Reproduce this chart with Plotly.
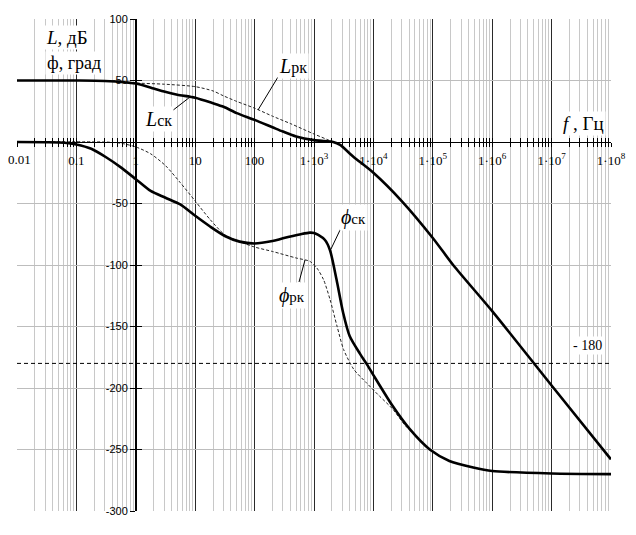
import plotly.graph_objects as go

# ---------------- data ----------------
f_L_ck = [0.01, 0.1, 0.3, 1, 2, 3, 5, 10, 20, 30, 50, 100, 200, 300, 500, 1000,
          1500, 2100, 2750, 4600, 1e4, 3e4, 1e5, 2.2e5, 1e6, 1e7, 1e8]
L_ck = [50, 50, 49.6, 47.5, 43.5, 41, 38.5, 36, 31.5, 28.6, 23.5, 18, 12, 8.5, 4.5, 1.5,
        0.7, 0, -2.4, -12, -25, -48, -78, -100, -137.5, -198, -258]

f_L_rk = [0.01, 0.1, 0.5, 1, 3, 10, 20, 30, 50, 100, 200, 400, 1000, 2100, 2750]
L_rk = [50, 50, 49.6, 48, 47, 45, 41.5, 37.5, 33, 27.5, 21, 15, 6.5, 0, -2.4]

f_ph_ck = [0.01, 0.03, 0.063, 0.1, 0.178, 0.316, 0.56, 1, 1.78, 3.16, 5.6, 10, 17.8,
           31.6, 56, 100, 200, 300, 600, 850, 1000, 1180, 1530, 1860, 2400,
           3100, 4000, 6000, 7600, 1e4, 2.1e4, 4.1e4, 8.9e4, 1.9e5, 4.8e5,
           1e6, 1e7, 1e8]
ph_ck = [0, -0.2, -0.6, -2, -5.5, -12.4, -20.6, -30.2, -39.8, -45.3, -50.8, -60, -68.7,
         -76.4, -81, -82.5, -80.5, -78.3, -75, -73.7, -74, -75.6, -79.7, -88, -112,
         -139, -158, -172.5, -180, -189.5, -214.5, -233.5, -250, -259.3, -264.6,
         -267.5, -269.5, -270]

f_ph_rk = [0.01, 0.3, 0.56, 1, 1.78, 3.16, 5.6, 10, 17.8, 31.6, 56, 100, 200, 500, 850,
           1120, 1450, 1860, 2450, 3150, 4700, 7600, 1.26e4, 2.1e4, 3.5e4, 4.5e4]
ph_rk = [0, 0, -1, -4, -9.6, -19.2, -33, -48, -63, -75.5, -81, -85.4, -89, -94.3, -97,
         -102.5, -112, -128, -150, -168.7, -185, -195.7, -206.5, -217, -231, -236]

f_ref = [0.01, 1e8]
ph_ref = [-180, -180]

x_tickvals = [0.01, 0.1, 1, 10, 100, 1e3, 1e4, 1e5, 1e6, 1e7, 1e8]
x_ticktext = ["0.01", "0.1", "1", "10", "100", "1·10<sup>3</sup>", "1·10<sup>4</sup>",
              "1·10<sup>5</sup>", "1·10<sup>6</sup>", "1·10<sup>7</sup>", "1·10<sup>8</sup>"]
y_tickvals = [100, 50, -50, -100, -150, -200, -250, -300]
y_ticktext = ["100", "50", "-50", "-100", "-150", "-200", "-250", "-300"]

minor_vals = [m * 10.0 ** d for d in range(-2, 8) for m in range(2, 10)]

SERIF = "Liberation Serif"
SANS = "Liberation Sans"

# page has an 8px body margin: figure is placed at (8, 8) in the window
PAGE = 8
W, H = 636 - 2 * PAGE, 535 - 2 * PAGE
PL, PR, PT, PB = 17, 611, 19, 511          # plot area in window pixels
ML, MT = PL - PAGE, PT - PAGE
MR, MB = W - (PR - PAGE), H - (PB - PAGE)

fig = go.Figure()
thick = dict(color="black", width=2.6)
thin = dict(color="#222222", width=1, dash="3px,2px")

fig.add_trace(go.Scatter(x=f_L_rk, y=L_rk, mode="lines", line=dict(**thin, shape="spline", smoothing=0.7)))
fig.add_trace(go.Scatter(x=f_ph_rk, y=ph_rk, mode="lines", line=dict(**thin, shape="spline", smoothing=0.7)))
fig.add_trace(go.Scatter(x=f_L_ck, y=L_ck, mode="lines", line=dict(**thick, shape="spline", smoothing=0.7)))
fig.add_trace(go.Scatter(x=f_ph_ck, y=ph_ck, mode="lines", line=dict(**thick, shape="spline", smoothing=0.7)))
fig.add_trace(go.Scatter(x=f_ref, y=ph_ref, mode="lines", xaxis="x2", yaxis="y2",
                         line=dict(color="black", width=1, dash="4px,3px")))

xpos = (0 - (-300)) / 400.0   # paper position of y = 0
ypos = (0 - (-2)) / 10.0      # paper position of f = 1

# the first label sits at the very left edge of the figure: drawn separately so it is not clipped
axis_ticktext = [""] + x_ticktext[1:]

fig.update_layout(
    width=W, height=H, autosize=False,
    margin=dict(l=ML, r=MR, t=MT, b=MB, pad=0),
    paper_bgcolor="white", plot_bgcolor="white",
    showlegend=False,
    xaxis=dict(type="log", range=[-2, 8], anchor="free", position=xpos, side="bottom",
               automargin=False, ticklabeloverflow="allow",
               showline=True, linecolor="black", linewidth=1, zeroline=False,
               tickvals=x_tickvals, ticktext=axis_ticktext, ticks="outside", ticklen=4,
               tickcolor="black", tickfont=dict(family=SERIF, size=13, color="black"),
               ticklabelstandoff=2,
               showgrid=True, gridcolor="#2a2a2a", gridwidth=1,
               minor=dict(tickvals=minor_vals, showgrid=True, gridcolor="#c8c8c8",
                          gridwidth=1, ticks="outside", ticklen=4, tickcolor="black")),
    xaxis2=dict(type="log", range=[-2, 8], overlaying="x", anchor="free", position=xpos,
                side="bottom", automargin=False, showline=False, zeroline=False, showgrid=False,
                tickvals=x_tickvals, showticklabels=False, ticks="inside", ticklen=4,
                tickcolor="black",
                minor=dict(tickvals=minor_vals, showgrid=False, ticks="inside", ticklen=4,
                           tickcolor="black")),
    yaxis=dict(range=[-300, 100], anchor="free", position=ypos, side="left",
               automargin=False, ticklabeloverflow="allow",
               showline=True, linecolor="black", linewidth=1.5, zeroline=False,
               tickvals=y_tickvals, ticktext=y_ticktext, ticks="outside", ticklen=5,
               tickcolor="black", tickfont=dict(family=SANS, size=11, color="black"),
               ticklabelstandoff=0,
               showgrid=True, gridcolor="#bdbdbd", gridwidth=1),
    yaxis2=dict(range=[-300, 100], overlaying="y", anchor="free", position=ypos, side="left",
                automargin=False, showline=False, zeroline=False, showgrid=False,
                tickvals=y_tickvals, showticklabels=False, ticks="inside", ticklen=5,
                tickcolor="black"),
)


def px_x(px):
    return (px - PL) / float(PR - PL)


def px_y(py):
    return (PB - py) / float(PB - PT)


def txt(text, x, y, size=17, xanchor="center", family=SERIF, bg="white"):
    fig.add_annotation(text=text, x=px_x(x), y=px_y(y), xref="paper", yref="paper",
                       showarrow=False, xanchor=xanchor, yanchor="middle",
                       bgcolor=bg, borderpad=1 if bg != "rgba(0,0,0,0)" else 0,
                       font=dict(family=family, size=size, color="black"))


txt(x_ticktext[0], 7, 159, size=13, xanchor="left", bg="rgba(0,0,0,0)")
txt("<i>L</i>, дБ", 44, 38, size=19, xanchor="left")
txt("ф, град", 45, 63, size=18, xanchor="left")
txt("<i>L</i><span style='font-size:16px'>рк</span>", 293, 66, size=20)
txt("<i>L</i><span style='font-size:16px'>ск</span>", 158, 119, size=20)
txt("<i>f</i> , Гц", 583, 124, size=19)
txt("<i>ϕ</i><span style='font-size:15px'>ск</span>", 353, 218, size=20)
txt("<i>ϕ</i><span style='font-size:15px'>рк</span>", 292, 295, size=20)
txt("- 180", 587, 346, size=14)

# label pointers (window pixels: tail -> tip on the curve)
pointers = [((278, 77), (258, 110)),
            ((172, 111), (190, 97)),
            ((341, 228), (331, 249)),
            ((299, 282), (305, 260))]
for (x0, y0), (x1, y1) in pointers:
    fig.add_shape(type="line", xref="paper", yref="paper",
                  x0=px_x(x0), y0=px_y(y0), x1=px_x(x1), y1=px_y(y1),
                  line=dict(color="black", width=1))

fig.write_html("out.html")
